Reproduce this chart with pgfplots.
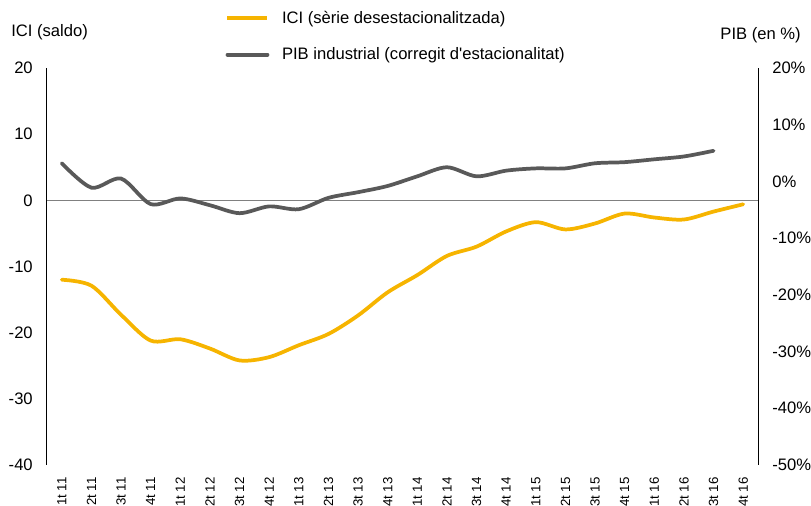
\documentclass[border=0pt]{standalone}
\usepackage{pgfplots}
\pgfplotsset{compat=1.18}
\usepackage{fontspec}
\setmainfont{Liberation Sans}
\definecolor{iciyellow}{RGB}{246,180,0}
\definecolor{pibgray}{RGB}{89,89,89}
\definecolor{zerogray}{RGB}{128,128,128}

\pgfplotstableread{
x y
0 -12.0
1 -12.9
2 -17.3
3 -21.2
4 -21.0
5 -22.4
6 -24.2
7 -23.7
8 -21.9
9 -20.2
10 -17.4
11 -13.9
12 -11.3
13 -8.4
14 -7.0
15 -4.7
16 -3.3
17 -4.4
18 -3.5
19 -2.0
20 -2.6
21 -2.9
22 -1.7
23 -0.6
}\icidata

\pgfplotstableread{
x y
0 3.2
1 -1.1
2 0.5
3 -4.0
4 -3.0
5 -4.2
6 -5.6
7 -4.4
8 -4.9
9 -2.9
10 -1.9
11 -0.8
12 0.9
13 2.5
14 0.9
15 1.9
16 2.3
17 2.3
18 3.2
19 3.4
20 3.9
21 4.4
22 5.4
}\pibdata

\pgfplotsset{common/.style={
  width=533.25bp, height=297.75bp, scale only axis,
  xmin=-0.5, xmax=23.5,
  /pgf/number format/assume math mode=true,
  major tick length=0pt,
  tick label style={font=\fontsize{12.5}{14}\selectfont},
  axis line style={line width=0.75bp, black},
  clip=false,
}}

\begin{document}
\begin{tikzpicture}
\begin{axis}[common,
  ymin=-40, ymax=20, ytick={-40,-30,...,20},
  axis y line*=left, axis x line*=bottom,
  x axis line style={draw=none},
  xtick={0,...,23},
  xticklabels={1t 11,2t 11,3t 11,4t 11,1t 12,2t 12,3t 12,4t 12,1t 13,2t 13,3t 13,4t 13,1t 14,2t 14,3t 14,4t 14,1t 15,2t 15,3t 15,4t 15,1t 16,2t 16,3t 16,4t 16},
  xticklabel style={rotate=90, anchor=east, inner sep=0pt, font=\fontsize{10}{12}\selectfont},
  xticklabel shift=9bp,
  yticklabel style={anchor=east, inner sep=0pt},
  yticklabel shift=10.5bp,
]
\addplot[zerogray, line width=0.9bp] coordinates {(-0.5,0) (23.5,0)};
\addplot[iciyellow, line width=2.8bp, smooth, line cap=round] table[x=x,y=y] {\icidata};
\end{axis}
\begin{axis}[common,
  ymin=-50, ymax=20, ytick={-50,-40,...,20},
  axis y line*=right, axis x line=none,
  yticklabel={\pgfmathprintnumber{\tick}\%},
  yticklabel style={anchor=west, inner sep=0pt},
  yticklabel shift=10.5bp,
  legend cell align=left,
  legend image code/.code={\draw[#1] (0bp,0bp) -- (30bp,0bp);},
  legend style={draw=none, fill=none, at={(0.2546,1)}, anchor=south west,
    yshift=3bp, xshift=-2bp, inner sep=0pt, row sep=14bp, column sep=8bp,
    nodes={inner sep=1.5bp}, font=\fontsize{12.5}{14}\selectfont},
]
\addlegendimage{iciyellow, line width=2.8bp}
\addlegendentry{ICI (sèrie desestacionalitzada)}
\addplot[pibgray, line width=2.8bp, smooth, line cap=round] table[x=x,y=y] {\pibdata};
\addlegendentry{PIB industrial (corregit d\textquotesingle estacionalitat)}
\end{axis}
\node[anchor=west, inner sep=0pt, font=\fontsize{12.5}{14}\selectfont] at ([xshift=-27bp, yshift=27bp]current axis.north west) {ICI (saldo)};
\node[anchor=east, inner sep=0pt, font=\fontsize{12.5}{14}\selectfont] at ([xshift=32.25bp, yshift=24.75bp]current axis.north east) {PIB (en \%)};
\pgfresetboundingbox
\path ([shift={(-35.25bp,-30.75bp)}]current axis.south west) rectangle ([shift={(39.75bp,51bp)}]current axis.north east);
\end{tikzpicture}
\end{document}
